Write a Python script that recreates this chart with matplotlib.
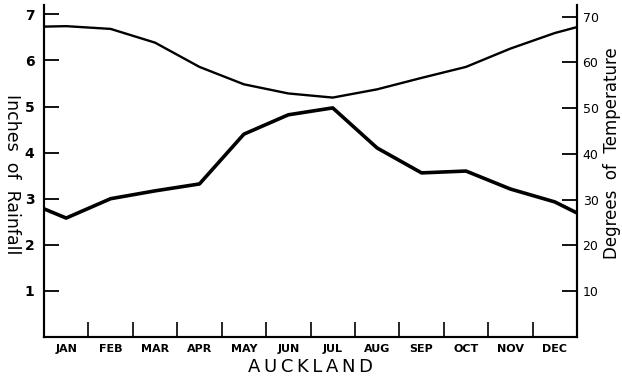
import numpy as np
import matplotlib
matplotlib.use("Agg")
import matplotlib.pyplot as plt

# ── data ──────────────────────────────────────────────────────────────────────
MONTHS = ["JAN", "FEB", "MAR", "APR", "MAY", "JUN",
          "JUL", "AUG", "SEP", "OCT", "NOV", "DEC"]
# inches of rainfall, mid-month
RAIN = [2.58, 3.00, 3.17, 3.32, 4.40, 4.82, 4.97, 4.10, 3.56, 3.60, 3.21, 2.93]
RAIN_EDGE = [2.78, 2.69]          # value drawn at start / end of the year
# degrees of temperature, mid-month
TEMP = [67.9, 67.3, 64.3, 59.0, 55.2, 53.2, 52.3, 54.1, 56.6, 59.0, 63.0, 66.4]
TEMP_EDGE = [67.8, 67.7]

RAIN_TICKS = [1, 2, 3, 4, 5, 6, 7]
TEMP_TICKS = [10, 20, 30, 40, 50, 60, 70]
TITLE = "\u2009".join("AUCKLAND")

# ── plot ──────────────────────────────────────────────────────────────────────
plt.rcParams["font.family"] = ["DejaVu Sans"]

fig = plt.figure(figsize=(6.22, 3.78), dpi=100)
ax = fig.add_axes([0.0707, 0.1085, 0.857, 0.878])
ax2 = ax.twinx()

mid = np.arange(12) + 0.5
x_rain = np.concatenate([[0], mid, [12]])
y_rain = np.concatenate([[RAIN_EDGE[0]], RAIN, [RAIN_EDGE[1]]])
x_temp = np.concatenate([[0], mid, [12]])
y_temp = np.concatenate([[TEMP_EDGE[0]], TEMP, [TEMP_EDGE[1]]])

ax.plot(x_rain, y_rain, color="black", lw=2.6, solid_joinstyle="round")
ax2.plot(x_temp, y_temp, color="black", lw=1.7, solid_joinstyle="round")

ax.set_xlim(0, 12)
ax.set_ylim(0, 7.2)
ax2.set_ylim(0, 72.5)

for a in (ax, ax2):
    a.spines["top"].set_visible(False)
    for s in ("left", "right", "bottom"):
        a.spines[s].set_linewidth(1.5)

ax.set_yticks(RAIN_TICKS)
ax.set_yticklabels([str(t) for t in RAIN_TICKS], fontsize=10, fontweight="bold")
ax.tick_params(axis="y", direction="in", length=11, width=1.3, pad=7)

ax2.set_yticks(TEMP_TICKS)
ax2.set_yticklabels([str(t) for t in TEMP_TICKS], fontsize=9)
ax2.tick_params(axis="y", direction="in", length=11, width=1.3, pad=4)

ax.set_xticks(mid)
ax.set_xticklabels(MONTHS, fontsize=8, fontweight="bold")
ax.tick_params(axis="x", which="major", length=0, pad=5)
ax.set_xticks(np.arange(1, 12), minor=True)
ax.tick_params(axis="x", which="minor", direction="in", length=11, width=1.2)

ax.set_ylabel("Inches  of  Rainfall", rotation=270, fontsize=12.5,
              va="center", ha="center")
ax.yaxis.set_label_coords(-0.060, 0.49)
ax2.set_ylabel("Degrees  of  Temperature", rotation=90, fontsize=12,
               va="center", ha="center")
ax2.yaxis.set_label_coords(1.066, 0.555)

fig.text(0.5, 0.029, TITLE, ha="center", va="center", fontsize=13)

fig.savefig("out.png", dpi=100)
